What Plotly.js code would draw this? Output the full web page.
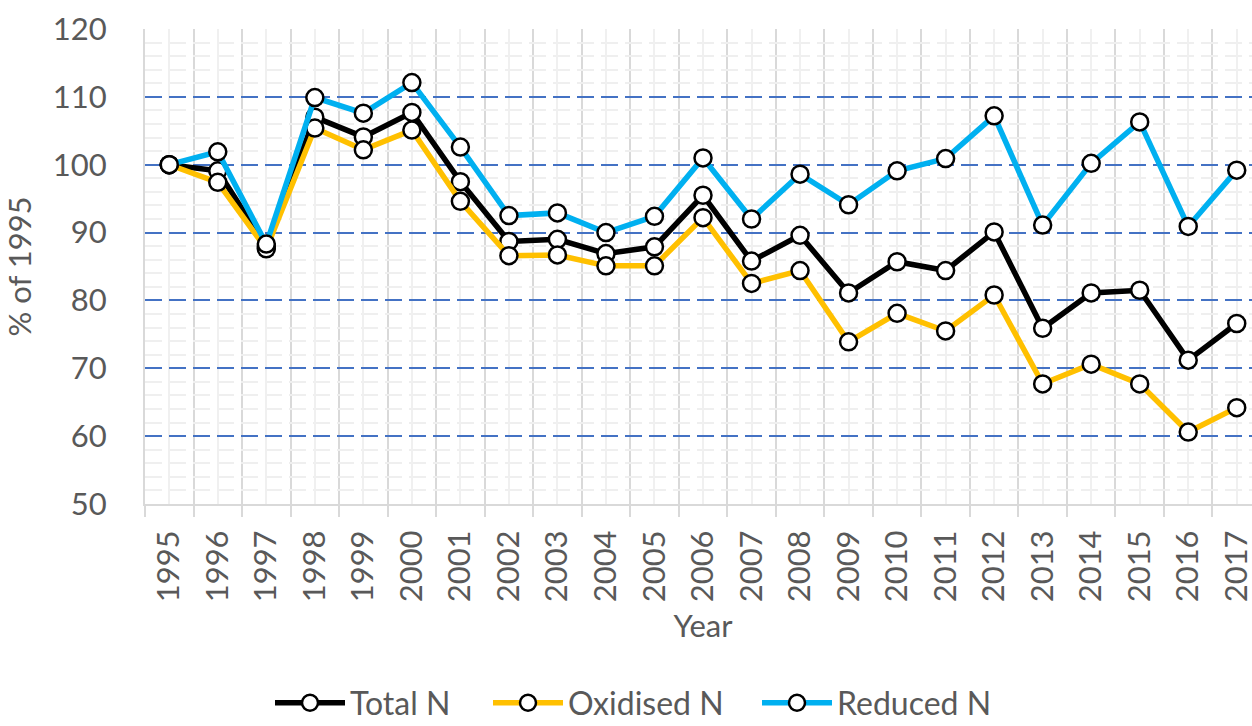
<!DOCTYPE html>
<html>
<head>
<meta charset="utf-8">
<script src="https://cdn.plot.ly/plotly-3.0.1.min.js"></script>
<style>
html,body{margin:0;padding:0;overflow:hidden;background:#fff;}
#chart{width:1271px;height:726px;}
</style>
</head>
<body>
<div id="chart"></div>
<script>
const years = [1995,1996,1997,1998,1999,2000,2001,2002,2003,2004,2005,2006,2007,2008,2009,2010,2011,2012,2013,2014,2015,2016,2017];
const yearLabels = years.map(String);
const totalN    = [100, 99.1, 87.9, 107.0, 104.1, 107.7, 97.5, 88.7, 89.0, 86.9, 87.9, 95.5, 85.8, 89.6, 81.1, 85.7, 84.4, 90.1, 75.9, 81.1, 81.5, 71.2, 76.6];
const oxidisedN = [100, 97.4, 87.6, 105.4, 102.2, 105.1, 94.6, 86.6, 86.7, 85.1, 85.1, 92.2, 82.5, 84.4, 73.9, 78.1, 75.5, 80.8, 67.7, 70.6, 67.7, 60.6, 64.2];
const reducedN  = [100, 101.9, 88.3, 109.9, 107.6, 112.1, 102.6, 92.5, 92.9, 90.0, 92.4, 101.0, 92.0, 98.6, 94.1, 99.1, 100.9, 107.2, 91.1, 100.2, 106.3, 90.9, 99.2];
const seriesNames = ["Total N", "Oxidised N", "Reduced N"];
const seriesColors = ["#000000", "#FFC000", "#00B0F0"];

const FONT = "Lato, 'Open Sans', sans-serif";
const GREY = "#595959";
const FS = 31;
const W = 1271, H = 726;

function mk(name, y, color, leg){
  return {
    type: "scatter", mode: "lines+markers", name: name, legend: leg,
    x: years, y: y,
    line: {color: color, width: 5.5},
    marker: {symbol: "circle", size: 17, color: "#ffffff", line: {color: "#000000", width: 2.5}},
    hoverinfo: "skip"
  };
}

const data = [
  mk(seriesNames[0], totalN, seriesColors[0], "legend"),
  mk(seriesNames[1], oxidisedN, seriesColors[1], "legend2"),
  mk(seriesNames[2], reducedN, seriesColors[2], "legend3")
];

function leg(px){
  return {
    orientation: "h", xref: "container", yref: "container",
    x: px / W, xanchor: "left", y: 1 - 703 / H, yanchor: "middle",
    itemwidth: 70, bgcolor: "rgba(0,0,0,0)",
    font: {family: FONT, size: 32, color: GREY},
    itemclick: false
  };
}

const layout = {
  width: W, height: H,
  margin: {l: 145, r: 10, t: 29, b: 222},
  paper_bgcolor: "#ffffff", plot_bgcolor: "#ffffff",
  font: {family: FONT, color: GREY, size: FS},
  showlegend: true,
  legend: leg(270),
  legend2: leg(488),
  legend3: leg(757),
  xaxis: {
    type: "linear", range: [1994.5, 2017.5],
    tickmode: "array", tickvals: years, ticktext: yearLabels,
    tickangle: -90, ticks: "", ticklabelstandoff: 12,
    showgrid: true, gridcolor: "#f0f0f0", gridwidth: 2,
    minor: {tick0: 1994.5, dtick: 1, showgrid: true, gridcolor: "#d9d9d9", gridwidth: 2,
            ticks: "outside", ticklen: 11, tickcolor: "#d9d9d9", tickwidth: 2},
    showline: true, linecolor: "#d9d9d9", linewidth: 2,
    zeroline: false, fixedrange: true, automargin: false,
    tickfont: {family: FONT, size: FS, color: GREY},
    title: {text: "Year", font: {family: FONT, size: FS, color: GREY}, standoff: 14}
  },
  yaxis: {
    range: [50, 120], tickmode: "linear", tick0: 50, dtick: 10,
    showgrid: true, gridcolor: "#4472C4", gridwidth: 2, griddash: "17px,7px",
    minor: {dtick: 2, showgrid: true, gridcolor: "#efefef", gridwidth: 2},
    ticks: "", ticklabelstandoff: 30,
    showline: true, linecolor: "#d9d9d9", linewidth: 2,
    zeroline: false, fixedrange: true, automargin: false,
    tickfont: {family: FONT, size: FS, color: GREY},
    title: {text: "% of 1995", font: {family: FONT, size: FS, color: GREY}, standoff: 14}
  }
};

Plotly.newPlot("chart", data, layout, {displayModeBar: false, staticPlot: true});
</script>
</body>
</html>
